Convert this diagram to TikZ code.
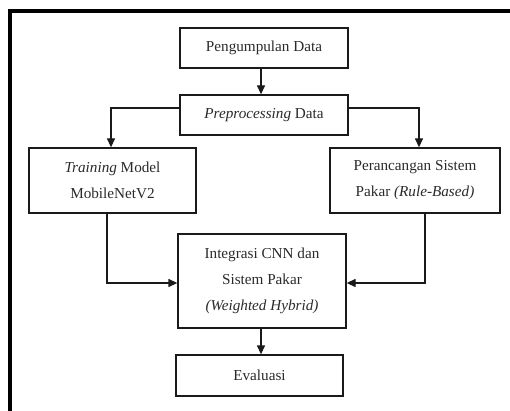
\documentclass[tikz,border=0pt]{standalone}
\usepackage{fontspec}
\setmainfont{Liberation Serif}
\usetikzlibrary{arrows.meta}
\definecolor{ink}{HTML}{2A2A2A}
\definecolor{edge}{HTML}{1A1A1A}
\tikzset{
  stagebox/.style={draw=edge, line width=1.3pt, text=ink, align=center,
    inner sep=0pt, font=\fontsize{15.2}{26}\selectfont},
  flow/.style={draw=edge, line width=1.3pt, -{Triangle[length=9pt,width=8pt]}},
}
\begin{document}
\begin{tikzpicture}[x=1pt, y=-1pt]
  \useasboundingbox (0,0) rectangle (510,411);
  \clip (0,0) rectangle (510,411);
  % page frame
  \draw[line width=4pt, black] (9.5,420) -- (9.5,11) -- (520,11);

  % process stages
  \node[stagebox, minimum width=168pt, minimum height=40pt] (b1) at (264,48) {Pengumpulan Data};
  \node[stagebox, minimum width=168pt, minimum height=40pt] (b2) at (264,115) {\textit{Preprocessing} Data};
  \node[stagebox, minimum width=167pt, minimum height=65pt] (b3) at (112.5,180.5) {\textit{Training} Model\\MobileNetV2};
  \node[stagebox, minimum width=170pt, minimum height=65pt] (b4) at (415,180.5) {Perancangan Sistem\\Pakar \textit{(Rule-Based)}};
  \node[stagebox, minimum width=168pt, minimum height=94pt] (b5) at (262,281) {Integrasi CNN dan\\Sistem Pakar\\\textit{(Weighted Hybrid)}};
  \node[stagebox, minimum width=167pt, minimum height=41pt] (b6) at (259.5,375.5) {Evaluasi};

  % connectors
  \draw[flow] ([xshift=-3pt]b1.south) -- ([xshift=-3pt]b2.north);
  \draw[flow] ([yshift=7pt]b2.west) -| ([xshift=-1.5pt]b3.north);
  \draw[flow] ([yshift=7pt]b2.east) -| ([xshift=4pt]b4.north);
  \draw[flow] ([xshift=-5.5pt]b3.south) |- ([yshift=-2pt]b5.west);
  \draw[flow] ([xshift=10pt]b4.south) |- ([yshift=-2pt]b5.east);
  \draw[flow] ([xshift=-1pt]b5.south) -- ([xshift=-1pt]b5.south |- b6.north);
\end{tikzpicture}
\end{document}
